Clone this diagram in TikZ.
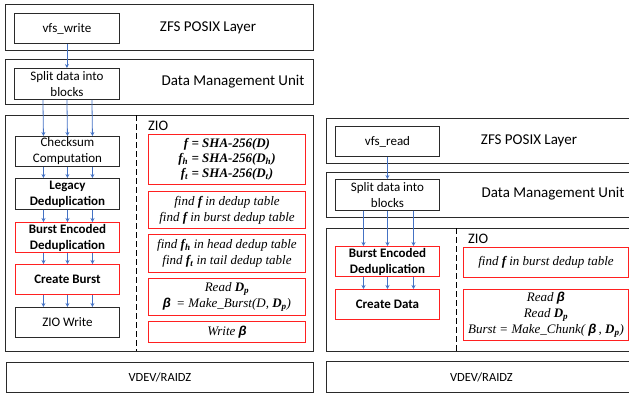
\documentclass[tikz,border=0pt]{standalone}
\usepackage{fontspec}
\setmainfont{Carlito}
\newfontfamily\tms{Liberation Serif}
\newfontfamily\gk{Liberation Sans}
\usetikzlibrary{arrows.meta}

\definecolor{lineblk}{HTML}{2A2A2A}
\definecolor{boxred}{HTML}{FF2020}
\definecolor{flowblue}{HTML}{4472C4}

% bold italic beta and subscripted symbols
\newcommand{\bet}{{\gk\bfseries\itshape β}}
\newcommand{\bsym}[2]{\textbf{\textit{#1}}\textsubscript{\textbf{\textit{#2}}}}

\tikzset{
  layer/.style={draw=lineblk, line width=0.9pt, anchor=north west, inner sep=0pt},
  blk/.style={draw=lineblk, line width=0.9pt, anchor=north west, align=center,
    inner sep=0pt, font=\fontsize{13}{16}\selectfont},
  redblk/.style={blk, draw=boxred, line width=1pt},
  boldblk/.style={blk, font=\fontsize{13}{16}\selectfont\bfseries},
  redbold/.style={boldblk, draw=boxred, line width=1pt},
  formula/.style={redblk, font=\tms\itshape\fontsize{13}{16}\selectfont},
  title/.style={font=\fontsize{15}{18}\selectfont},
  ziolabel/.style={anchor=west, font=\fontsize{14.5}{17}\selectfont, inner sep=0pt},
  vdev/.style={layer, font=\fontsize{12.5}{15}\selectfont},
  divider/.style={draw=black, line width=0.9pt, dash pattern=on 6pt off 3pt},
  flow/.style={draw=flowblue, line width=0.8pt, -{Stealth[length=4pt,width=4pt]}},
}

\begin{document}
\begin{tikzpicture}[x=1pt, y=-1pt]
\useasboundingbox (0,0) rectangle (629,397);
\clip (0,0) rectangle (629,397);

% ---------------- write path ----------------
\node[layer, minimum width=308pt, minimum height=46pt] (posixW) at (5,4) {};
\node[blk, minimum width=105pt, minimum height=30pt] (vfsw) at (14,13) {vfs\_write};
\node[title] (posixWt) at (208,28) {ZFS POSIX Layer};

\node[layer, minimum width=308pt, minimum height=45pt] (dmuW) at (5,59) {};
\node[blk, minimum width=105pt, minimum height=31pt] (splitW) at (14,68) {Split data into\\blocks};
\node[title] (dmuWt) at (233,82) {Data Management Unit};

\node[layer, minimum width=308pt, minimum height=236pt] (zioW) at (5,115) {};
\coordinate (dvWt) at (136,115);
\coordinate (dvWb) at (136,351);
\draw[divider] (dvWt) -- (dvWb);
\node[ziolabel] (zioWt) at (148,126) {ZIO};

\node[blk, minimum width=104pt, minimum height=30pt] (chk) at (15,136) {Checksum\\Computation};
\node[boldblk, minimum width=104pt, minimum height=31pt] (leg) at (15,178) {Legacy\\Deduplication};
\node[redbold, minimum width=104pt, minimum height=30pt] (bedW) at (15,222) {Burst Encoded\\Deduplication};
\node[redbold, minimum width=104pt, minimum height=30pt] (cburst) at (15,264) {Create Burst};
\node[blk, minimum width=104pt, minimum height=30pt] (ziow) at (15,307) {ZIO Write};

\node[formula, minimum width=157pt, minimum height=50pt, font=\tms\bfseries\itshape\fontsize{13}{15}\selectfont] (sha) at (148,134)
  {f = SHA-256(D)\\f\textsubscript{h} = SHA-256(D\textsubscript{h})\\f\textsubscript{t} = SHA-256(D\textsubscript{t})};
\node[formula, minimum width=157pt, minimum height=37pt] (findf) at (148,191)
  {find \textbf{f} in dedup table\\find \textbf{f} in burst dedup table};
\node[formula, minimum width=157pt, minimum height=38pt] (findh) at (148,234)
  {find \bsym{f}{h} in head dedup table\\find \bsym{f}{t} in tail dedup table};
\node[formula, minimum width=157pt, minimum height=37pt] (mkburst) at (148,278)
  {Read \bsym{D}{p}\\\bet\ \,= Make\_Burst(D, \bsym{D}{p})};
\node[formula, minimum width=157pt, minimum height=21pt] (wbeta) at (148,321) {Write \bet};

\node[vdev, minimum width=307pt, minimum height=30pt] (vdevW) at (6,362) {VDEV/RAIDZ};

% write-path data flow
\draw[flow] (vfsw.south) -- (splitW.north);
\foreach \dx in {-24,0,25} {
  \draw[flow] ([xshift=\dx pt]splitW.south) -- ([xshift=\dx pt]chk.north);
  \draw[flow] ([xshift=\dx pt]chk.south) -- ([xshift=\dx pt]leg.north);
  \draw[flow] ([xshift=\dx pt]leg.south) -- ([xshift=\dx pt]bedW.north);
  \draw[flow] ([xshift=\dx pt]bedW.south) -- ([xshift=\dx pt]cburst.north);
  \draw[flow] ([xshift=\dx pt]cburst.south) -- ([xshift=\dx pt]ziow.north);
}

% ---------------- read path ----------------
\node[layer, minimum width=310pt, minimum height=45pt] (posixR) at (326,118) {};
\node[blk, minimum width=104pt, minimum height=30pt] (vfsr) at (335,126) {vfs\_read};
\node[title] (posixRt) at (529,141) {ZFS POSIX Layer};

\node[layer, minimum width=310pt, minimum height=45pt] (dmuR) at (326,172) {};
\node[blk, minimum width=104pt, minimum height=31pt] (splitR) at (335,179) {Split data into\\blocks};
\node[title] (dmuRt) at (553,194) {Data Management Unit};

\node[layer, minimum width=310pt, minimum height=123pt] (zioR) at (326,228) {};
\coordinate (dvRt) at (456,228);
\coordinate (dvRb) at (456,351);
\draw[divider] (dvRt) -- (dvRb);
\node[ziolabel] (zioRt) at (468,239) {ZIO};

\node[redbold, minimum width=104pt, minimum height=30pt] (bedR) at (335,246) {Burst Encoded\\Deduplication};
\node[redbold, minimum width=104pt, minimum height=30pt] (cdata) at (335,289) {Create Data};

\node[formula, minimum width=165pt, minimum height=30pt] (findb) at (463,247)
  {find \textbf{f} in burst dedup table};
\node[formula, minimum width=165pt, minimum height=51pt] (mkchunk) at (463,289)
  {Read \bet\\Read \bsym{D}{p}\\Burst = Make\_Chunk( \bet\,, \bsym{D}{p})};

\node[vdev, minimum width=310pt, minimum height=31pt] (vdevR) at (326,361) {VDEV/RAIDZ};

% read-path data flow
\draw[flow] (vfsr.south) -- (splitR.north);
\foreach \dx in {-24,0,26} {
  \draw[flow] ([xshift=\dx pt]splitR.south) -- ([xshift=\dx pt]bedR.north);
  \draw[flow] ([xshift=\dx pt]bedR.south) -- ([xshift=\dx pt]cdata.north);
}
\end{tikzpicture}
\end{document}
